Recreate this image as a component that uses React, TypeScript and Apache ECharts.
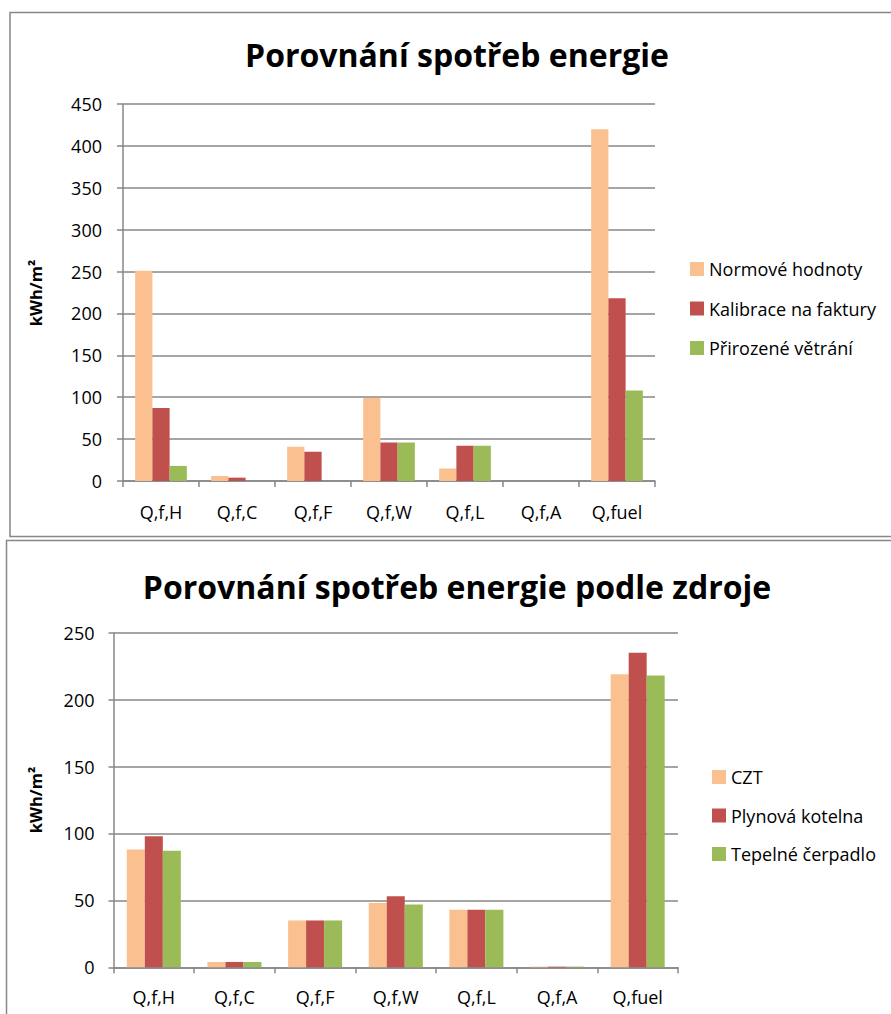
import React, { useEffect, useRef } from "react";
import * as echarts from "echarts";

const categories = ["Q,f,H", "Q,f,C", "Q,f,F", "Q,f,W", "Q,f,L", "Q,f,A", "Q,fuel"];

const topTitle = "Porovnání spotřeb energie";
const topNames = ["Normové hodnoty", "Kalibrace na faktury", "Přirozené větrání"];
const normove = [251, 6, 41, 99, 15, 0, 420];
const kalibrace = [87, 4, 35, 46, 42, 0, 218];
const prirozene = [18, 0, 0, 46, 42, 0, 108];
const topAxis = { min: 0, max: 450, interval: 50 };

const bottomTitle = "Porovnání spotřeb energie podle zdroje";
const bottomNames = ["CZT", "Plynová kotelna", "Tepelné čerpadlo"];
const czt = [88, 4, 35, 48, 43, 0.5, 219];
const plynova = [98, 4, 35, 53, 43, 0.5, 235];
const cerpadlo = [87, 4, 35, 47, 43, 0.5, 218];
const bottomAxis = { min: 0, max: 250, interval: 50 };

const unitLabel = "kWh/m²";
const colors = ["#FAC090", "#C0504D", "#9BBB59"];

const FONT = "'Open Sans', 'Noto Sans', sans-serif";
const GRAY = "#878787";

export default function App() {
  const ref = useRef<HTMLDivElement>(null);
  useEffect(() => {
    if (!ref.current) return;
    const chart = echarts.init(ref.current, undefined, { renderer: "svg" });
    const xAxisCommon = (gridIndex: number, margin: number) => ({
      type: "category",
      gridIndex,
      data: categories,
      axisLine: { lineStyle: { color: GRAY, width: 1.5 } },
      axisTick: { show: true, length: 6, lineStyle: { color: GRAY, width: 1.5 } },
      axisLabel: { color: "#000", fontFamily: FONT, fontSize: 18, margin },
    });
    const yAxisCommon = (gridIndex: number, ax: any, margin: number, tickLen: number) => ({
      type: "value",
      gridIndex,
      min: ax.min,
      max: ax.max,
      interval: ax.interval,
      axisLine: { show: true, lineStyle: { color: GRAY, width: 1.5 } },
      axisTick: { show: true, length: tickLen, lineStyle: { color: GRAY, width: 1.5 } },
      splitLine: { show: true, lineStyle: { color: GRAY, width: 1.5 } },
      axisLabel: { color: "#000", fontFamily: FONT, fontSize: 18, margin },
    });
    const mkSeries = (name: string, data: number[], idx: number, color: string, gap: string) => ({
      name,
      type: "bar",
      xAxisIndex: idx,
      yAxisIndex: idx,
      data,
      barGap: "0%",
      barCategoryGap: gap,
      itemStyle: { color },
    });
    const option: any = {
      animation: false,
      backgroundColor: "#fff",
      grid: [
        { left: 123, top: 104, width: 532, height: 377 },
        { left: 113.5, top: 632.7, width: 564.5, height: 334.6 },
      ],
      xAxis: [xAxisCommon(0, 22), xAxisCommon(1, 21)],
      yAxis: [yAxisCommon(0, topAxis, 21, 6), yAxisCommon(1, bottomAxis, 19, 5)],
      legend: [
        {
          data: topNames,
          orient: "vertical",
          left: 690,
          top: 260,
          padding: 0,
          itemWidth: 14,
          itemHeight: 14,
          itemGap: 21.5,
          icon: "rect",
          textStyle: { fontFamily: FONT, fontSize: 18, color: "#000" },
        },
        {
          data: bottomNames,
          orient: "vertical",
          left: 712,
          top: 768,
          padding: 0,
          itemWidth: 14,
          itemHeight: 14,
          itemGap: 20.5,
          icon: "rect",
          textStyle: { fontFamily: FONT, fontSize: 18, color: "#000" },
        },
      ],
      series: [
        mkSeries(topNames[0], normove, 0, colors[0], "32%"),
        mkSeries(topNames[1], kalibrace, 0, colors[1], "32%"),
        mkSeries(topNames[2], prirozene, 0, colors[2], "32%"),
        mkSeries(bottomNames[0], czt, 1, colors[0], "33%"),
        mkSeries(bottomNames[1], plynova, 1, colors[1], "33%"),
        mkSeries(bottomNames[2], cerpadlo, 1, colors[2], "33%"),
      ],
      graphic: [
        {
          type: "rect",
          shape: { x: 10, y: 12.5, width: 900, height: 524 },
          style: { fill: "none", stroke: GRAY, lineWidth: 1.5 },
          silent: true,
          z: -1,
        },
        {
          type: "rect",
          shape: { x: 6.5, y: 540.5, width: 900, height: 500 },
          style: { fill: "none", stroke: GRAY, lineWidth: 1.5 },
          silent: true,
          z: -1,
        },
        {
          type: "text",
          x: 457,
          y: 54,
          style: {
            text: topTitle,
            fontFamily: FONT,
            fontWeight: "bold",
            fontSize: 32,
            fill: "#000",
            textAlign: "center",
            textVerticalAlign: "middle",
          },
        },
        {
          type: "text",
          x: 457,
          y: 586,
          style: {
            text: bottomTitle,
            fontFamily: FONT,
            fontWeight: "bold",
            fontSize: 32,
            fill: "#000",
            textAlign: "center",
            textVerticalAlign: "middle",
          },
        },
        {
          type: "text",
          x: 35,
          y: 293,
          rotation: Math.PI / 2,
          style: {
            text: unitLabel,
            fontFamily: FONT,
            fontWeight: "bold",
            fontSize: 16.5,
            fill: "#000",
            textAlign: "center",
            textVerticalAlign: "middle",
          },
        },
        {
          type: "text",
          x: 35,
          y: 800,
          rotation: Math.PI / 2,
          style: {
            text: unitLabel,
            fontFamily: FONT,
            fontWeight: "bold",
            fontSize: 16.5,
            fill: "#000",
            textAlign: "center",
            textVerticalAlign: "middle",
          },
        },
      ],
    };
    chart.setOption(option);
    return () => chart.dispose();
  }, []);
  return (
    <div
      ref={ref}
      style={{ position: "absolute", left: 0, top: 0, width: 891, height: 1014 }}
    />
  );
}
